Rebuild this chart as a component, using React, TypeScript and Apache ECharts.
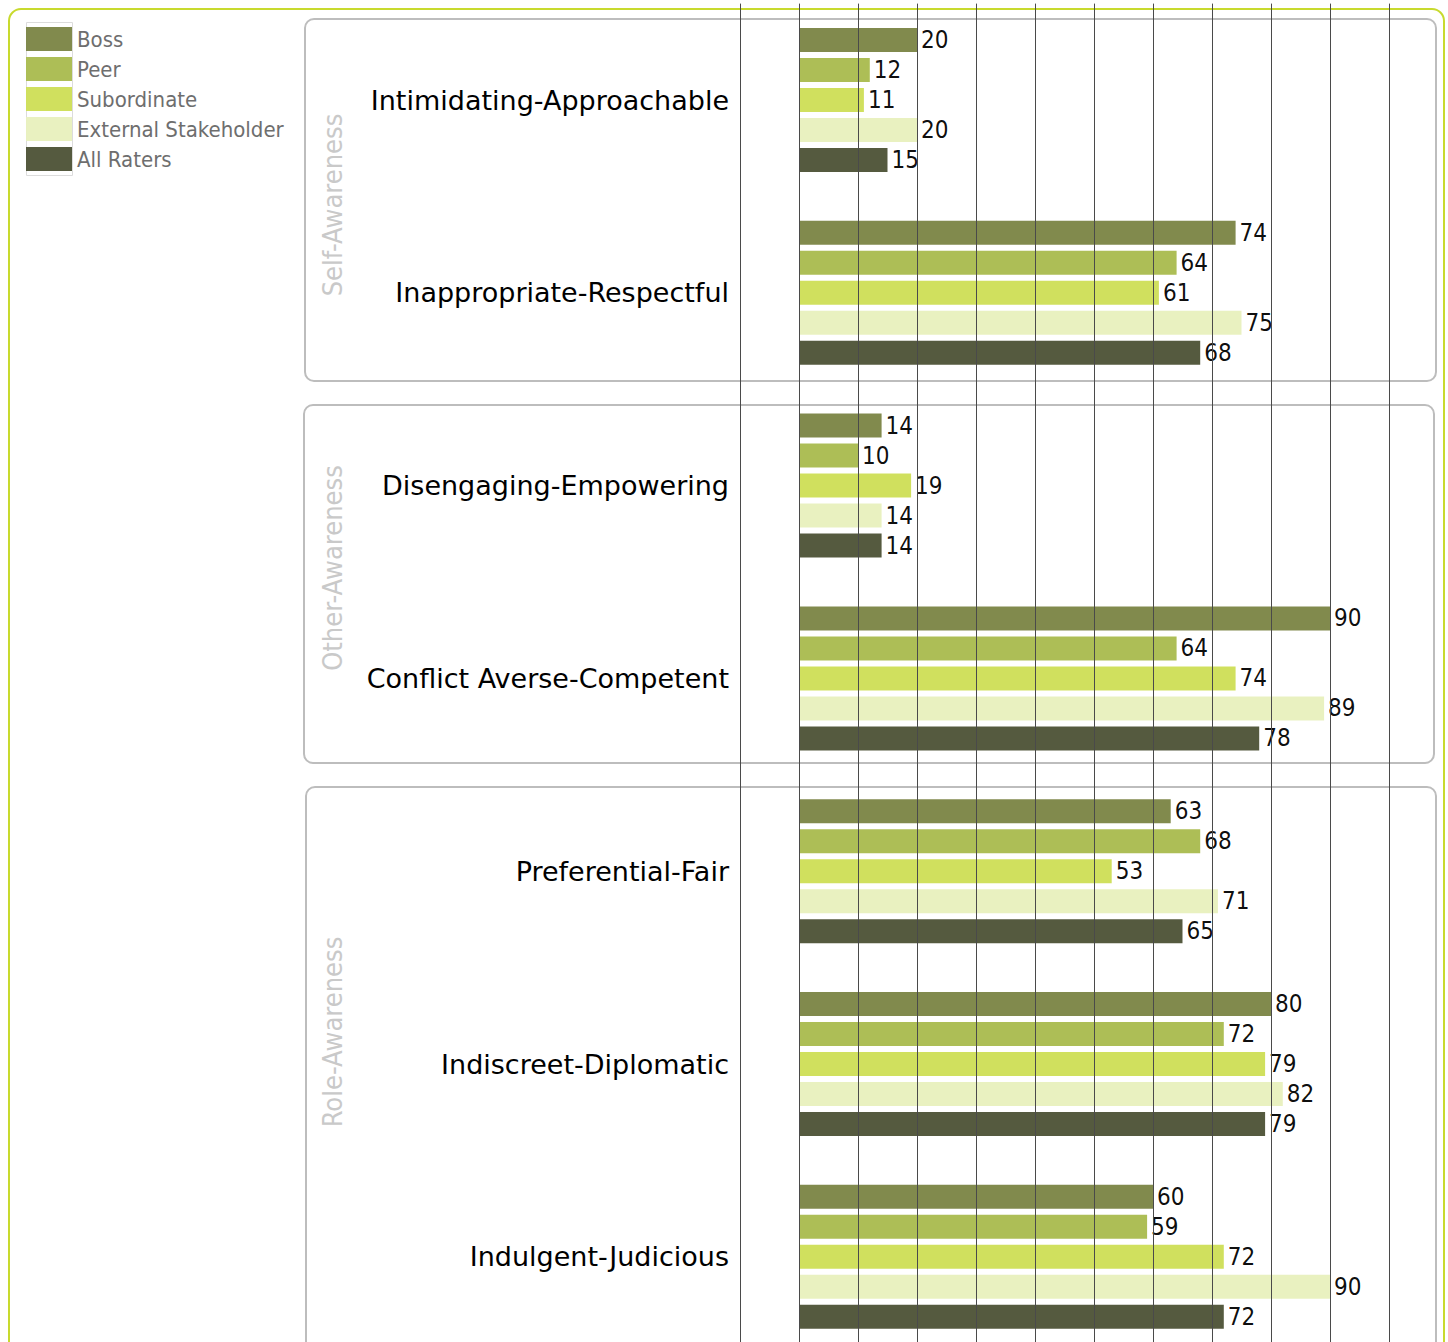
import React, { useEffect, useRef } from "react";
import * as echarts from "echarts";

const categories = [
  "Intimidating-Approachable",
  "Inappropriate-Respectful",
  "Disengaging-Empowering",
  "Conflict Averse-Competent",
  "Preferential-Fair",
  "Indiscreet-Diplomatic",
  "Indulgent-Judicious",
];
const seriesNames = ["Boss", "Peer", "Subordinate", "External Stakeholder", "All Raters"];
const boss = [20, 74, 14, 90, 63, 80, 60];
const peer = [12, 64, 10, 64, 68, 72, 59];
const subordinate = [11, 61, 19, 74, 53, 79, 72];
const external = [20, 75, 14, 89, 71, 82, 90];
const allRaters = [15, 68, 14, 78, 65, 79, 72];
const colors = ["#7a8443", "#a9ba4d", "#cede55", "#e8f0bd", "#4c5135"];
const groupNames = ["Self-Awareness", "Other-Awareness", "Role-Awareness"];

const FONT_C = "DejaVu Sans Condensed, DejaVu Sans, sans-serif";
const FONT = "DejaVu Sans, sans-serif";

export default function App() {
  const ref = useRef<HTMLDivElement>(null);
  useEffect(() => {
    const chart = echarts.init(ref.current!, null, { renderer: "svg" });
    const values = [boss, peer, subordinate, external, allRaters];
    const H = 1370;
    const gridTop = 3.6;
    const band = 192.8;
    const boxes = [
      { x: 305, y: 19, w: 1131, h: 362 },
      { x: 304, y: 405, w: 1130, h: 358 },
      { x: 306, y: 787, w: 1130, h: 600 },
    ];
    const labelY = [205, 568, 1032];
    const graphic: any[] = [
      {
        type: "rect",
        shape: { x: 9, y: 9, width: 1435, height: 1420, r: 12 },
        style: { fill: "none", stroke: "#c8da2e", lineWidth: 2 },
        z: 1,
      },
      {
        type: "rect",
        shape: { x: 26.5, y: 22.5, width: 46, height: 153 },
        style: { fill: "none", stroke: "#dcdcdc", lineWidth: 1 },
        z: 1,
      },
    ];
    boxes.forEach((b, i) => {
      graphic.push({
        type: "rect",
        shape: { x: b.x, y: b.y, width: b.w, height: b.h, r: 9 },
        style: { fill: "none", stroke: "#bdbdbd", lineWidth: 2 },
        z: 1,
      });
      graphic.push({
        type: "text",
        x: 332,
        y: labelY[i],
        rotation: Math.PI / 2,
        style: {
          text: groupNames[i],
          fill: "#c9c9c9",
          font: `27px ${FONT_C}`,
          align: "center",
          verticalAlign: "middle",
        },
        z: 1,
      });
    });
    chart.setOption({
      animation: false,
      color: colors,
      legend: {
        orient: "vertical",
        left: 21,
        top: 22,
        icon: "rect",
        itemWidth: 46,
        itemHeight: 24,
        itemGap: 6,
        textStyle: { fontSize: 22, color: "#6e6e6e", fontFamily: FONT_C },
        data: seriesNames,
      },
      graphic,
      grid: {
        left: 740,
        right: 0,
        top: gridTop,
        bottom: H - gridTop - band * categories.length,
      },
      xAxis: {
        type: "value",
        min: -10,
        max: 110,
        interval: 10,
        z: 10,
        axisLine: { show: false },
        axisTick: { show: false },
        axisLabel: { show: false },
        splitLine: { show: true, lineStyle: { color: "#4a4a4a", width: 1 } },
      },
      yAxis: {
        type: "category",
        inverse: true,
        data: categories,
        axisLine: { show: false },
        axisTick: { show: false },
        splitLine: { show: false },
        axisLabel: { fontSize: 27, color: "#000", fontFamily: FONT, margin: 11 },
      },
      series: seriesNames.map((name, i) => ({
        name,
        type: "bar",
        data: values[i],
        barWidth: 24,
        barGap: "25%",
        itemStyle: { color: colors[i], opacity: 0.95 },
        label: {
          show: true,
          position: "right",
          distance: 4,
          color: "#000",
          fontSize: 24,
          fontFamily: FONT_C,
        },
      })),
    });
    return () => chart.dispose();
  }, []);
  return (
    <div
      ref={ref}
      style={{ position: "fixed", left: 0, top: 0, width: 1448, height: 1370, background: "#fff" }}
    />
  );
}
